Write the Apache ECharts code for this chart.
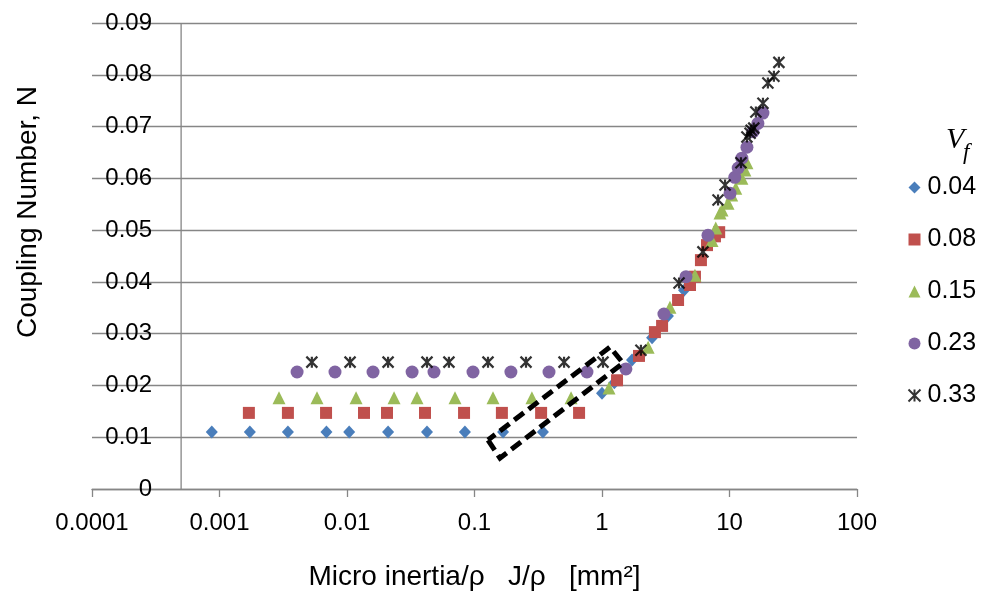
<!DOCTYPE html>
<html><head><meta charset="utf-8">
<script src="https://cdn.jsdelivr.net/npm/echarts@6/dist/echarts.min.js"></script>
<style>html,body{margin:0;padding:0;background:#fff}#c{width:987px;height:599px}</style>
</head><body><div id="c"></div>
<script>
// ---- data ----
const seriesNames = ['0.04', '0.08', '0.15', '0.23', '0.33'];
const xTickLabels = ['0.0001', '0.001', '0.01', '0.1', '1', '10', '100'];
const yTickLabels = ['0', '0.01', '0.02', '0.03', '0.04', '0.05', '0.06', '0.07', '0.08', '0.09'];
const yAxisCrossX = 0.0005;
const yRange = [0, 0.09];

const vf004 = [[0.00087,0.011],[0.00173,0.011],[0.00344,0.011],[0.0069,0.011],[0.0104,0.011],[0.021,0.011],[0.0424,0.011],[0.0841,0.011],[0.1675,0.011],[0.344,0.011],
  [1.0,0.0185],[1.25,0.0205],[1.72,0.0249],[2.47,0.0292],[3.29,0.0334],[4.40,0.0384],[4.90,0.0398]];
const vf008 = [[0.0017,0.0147],[0.00344,0.0147],[0.00685,0.0147],[0.0136,0.0147],[0.0206,0.0147],[0.0409,0.0147],[0.0828,0.0147],[0.164,0.0147],[0.333,0.0147],[0.661,0.0147],
  [1.312,0.021],[1.95,0.0257],[2.60,0.0303],[2.96,0.0315],[3.95,0.0365],[4.90,0.0394],[5.36,0.041],[5.97,0.0442],[6.66,0.0471],[7.69,0.0488],[8.3,0.0496]];
const vf015 = [[0.00293,0.0176],[0.00582,0.0176],[0.01178,0.0176],[0.0234,0.0176],[0.0354,0.0176],[0.0703,0.0176],[0.1396,0.0176],[0.282,0.0176],[0.572,0.0176],
  [1.135,0.0195],[2.30,0.0274],[3.41,0.0351],[5.36,0.0413],[7.29,0.048],[7.8,0.0504],[8.42,0.0533],[8.73,0.0539],[9.73,0.0552],[10.4,0.0568],[11.2,0.0581],[12.5,0.060],[13.2,0.0616],[13.7,0.063]];
const vf023 = [[0.00406,0.0226],[0.00805,0.0226],[0.016,0.0226],[0.0324,0.0226],[0.0481,0.0226],[0.0973,0.0226],[0.193,0.0226],[0.384,0.0226],[0.762,0.0226],
  [1.54,0.0232],[3.06,0.0338],[4.56,0.041],[6.78,0.049],[10.1,0.0571],[11.0,0.0602],[11.7,0.062],[12.5,0.0639],[13.7,0.066],[15.3,0.069],[16.7,0.0706],[18.3,0.0726]];
const vf033 = [[0.0053,0.0245],[0.01057,0.0245],[0.021,0.0245],[0.0424,0.0245],[0.063,0.0245],[0.1276,0.0245],[0.2535,0.0245],[0.504,0.0245],[1.018,0.0245],
  [2.02,0.0268],[4.02,0.0398],[6.19,0.0458],[8.13,0.0558],[9.23,0.0587],[12.3,0.063],[13.7,0.068],[14.5,0.0687],[14.8,0.0693],[15.5,0.0697],[16.1,0.0728],[18.3,0.0745],[20.0,0.0784],[22.3,0.0797],[24.4,0.0824]];
// dashed highlight box (data coordinates)
const boxCorners = [[0.1277,0.00946],[0.1585,0.00598],[1.462,0.02432],[1.156,0.0274],[0.1277,0.00946]];

// ---- chart ----
const FONT = '"Liberation Sans", Arial, sans-serif';
const seriesData = [vf004, vf008, vf015, vf023, vf033];
const colors = ['#4A7EBB', '#C0504D', '#9BBB59', '#8064A2', '#000000'];
const symbols = ['diamond', 'rect', 'triangle', 'circle', 'path://M0 0L10 10M10 0L0 10M5 0L5 10'];
const sizes = [[12, 13], 12, 13, 13, 11];

const scatter = seriesNames.map((n, i) => ({
  name: n, type: 'scatter', data: seriesData[i], symbol: symbols[i], symbolSize: sizes[i],
  itemStyle: i === 4 ? { color: 'none', borderColor: '#000', borderWidth: 2.2 } : { color: colors[i], opacity: 1 },
  emphasis: { disabled: true }, z: 3 + i
}));

const chart = echarts.init(document.getElementById('c'));
chart.setOption({
  animation: false,
  backgroundColor: '#fff',
  grid: { left: 92, right: 130, top: 23, bottom: 110, containLabel: false },
  xAxis: {
    type: 'log', logBase: 10, min: 0.0001, max: 100, interval: 1,
    name: 'Micro inertia/ρ   J/ρ   [mm²]', nameLocation: 'middle', nameGap: 74,
    nameTextStyle: { fontSize: 28, fontFamily: FONT, color: '#000' },
    axisLine: { show: true, lineStyle: { color: '#868686', width: 1.3 } },
    axisTick: { show: true, length: 8, lineStyle: { color: '#868686', width: 1.3 } },
    minorTick: { show: false },
    axisLabel: { margin: 22, fontSize: 24, fontFamily: FONT, color: '#000',
      formatter: v => xTickLabels[Math.round(Math.log10(v)) + 4] },
    splitLine: { show: false }
  },
  yAxis: {
    type: 'value', min: yRange[0], max: yRange[1], interval: 0.01,
    axisLine: { show: false }, axisTick: { show: false },
    axisLabel: { margin: -60, fontSize: 24, fontFamily: FONT, color: '#000',
      formatter: v => yTickLabels[Math.round(v / 0.01)] },
    splitLine: { show: true, lineStyle: { color: '#868686', width: 1.3 } }
  },
  legend: {
    data: seriesNames, orient: 'vertical', left: 901, top: 170,
    itemWidth: 12, itemHeight: 12, itemGap: 27,
    textStyle: { fontSize: 25, fontFamily: FONT, color: '#000', padding: [0, 0, 0, 2] }
  },
  graphic: [
    { type: 'text', x: 28, y: 212, rotation: Math.PI / 2,
      style: { text: 'Coupling Number, N', align: 'center', verticalAlign: 'middle', font: '28px "Liberation Sans"', fill: '#000' } },
    { type: 'text', x: 946, y: 125, style: { text: 'V', font: 'italic 30px "Liberation Serif"', fill: '#000' } },
    { type: 'text', x: 963, y: 141, style: { text: 'f', font: 'italic 23px "Liberation Serif"', fill: '#000' } }
  ],
  series: [{
    name: 'yaxis', type: 'line', data: [[yAxisCrossX, yRange[0]], [yAxisCrossX, yRange[1]]],
    showSymbol: false, symbol: 'none', silent: true, z: 1,
    lineStyle: { color: '#868686', width: 1.3 }
  }].concat(scatter).concat([{
    name: 'box', type: 'line', data: boxCorners, showSymbol: false, symbol: 'none', silent: true, z: 10,
    lineStyle: { color: '#000', width: 5, type: [12, 6], cap: 'butt', join: 'miter' }
  }])
});
</script>
</body></html>
